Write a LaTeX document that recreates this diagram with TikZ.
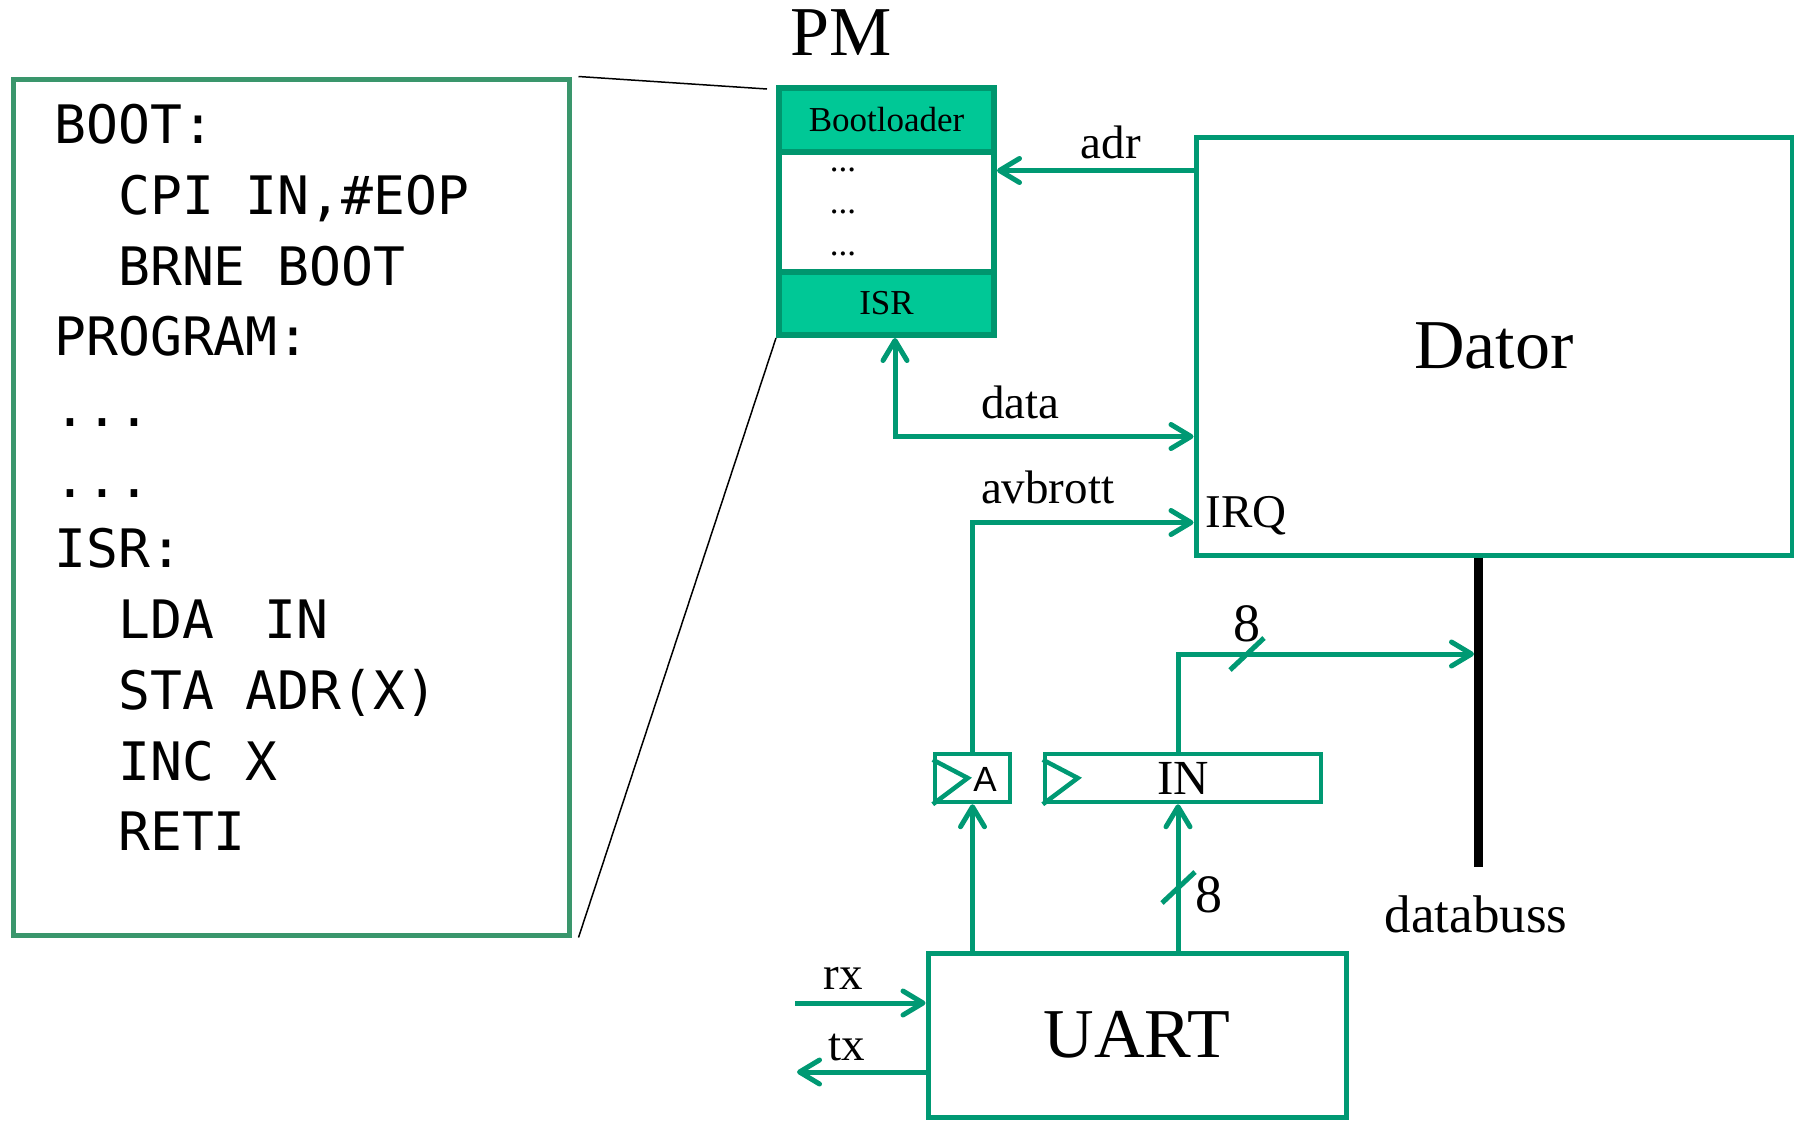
\documentclass[tikz,border=0pt]{standalone}
\usepackage{fontspec}
\setmainfont{Liberation Serif}
\newfontfamily\codefont{DejaVu Sans Mono}
\newfontfamily\regfont{Liberation Sans}
\usetikzlibrary{arrows.meta}
\definecolor{wire}{RGB}{0,153,115}
\definecolor{pmfill}{RGB}{0,200,150}
\definecolor{pmedge}{RGB}{0,150,110}
\definecolor{listing}{RGB}{58,150,108}
\newcommand\ind{\hphantom{xx}}

\begin{document}
\begin{tikzpicture}[x=0.5pt,y=-0.5pt,
  >={Straight Barb[length=10pt,width=12pt,round]},
  box/.style={draw=wire,line width=2.5pt,inner sep=0pt},
  band/.style={draw=pmedge,line width=3pt,fill=pmfill,minimum width=107.5pt,inner sep=0pt,font=\fontsize{17.5}{20}\selectfont},
  reg/.style={draw=wire,line width=2.25pt,minimum height=24pt,inner sep=0pt},
  sig/.style={draw=wire,line width=2.5pt,->},
  lbl/.style={font=\fontsize{23.5}{26}\selectfont,inner sep=0pt},
  num/.style={font=\fontsize{27}{30}\selectfont,inner sep=0pt,anchor=base},
  slash/.style={draw=wire,line width=2.5pt},
  zoomline/.style={draw=black,line width=0.75pt}]
  \useasboundingbox (0,0) rectangle (1794,1120);
  % program listing
  \node[draw=listing,line width=2.5pt,minimum width=278pt,minimum height=428pt] (code) at (291,507) {};
  \node[anchor=north west,inner sep=0pt,align=left,font=\codefont\fontsize{26.5}{35.35}\selectfont] (src) at (54,104)
    {BOOT:\\\ind CPI IN,\#EOP\\\ind BRNE BOOT\\PROGRAM:\\...\\...\\ISR:\\\ind LDA\hspace{25.5pt}IN\\\ind STA ADR(X)\\\ind INC X\\\ind RETI};
  % program memory
  \node[band,minimum height=32pt] (boot) at (886.5,120) {Bootloader};
  \node[band,minimum height=31.5pt] (isr) at (886.5,303.5) {ISR};
  \foreach \y [count=\i] in {170,212,254}
    \node[font=\fontsize{17.5}{20}\selectfont,inner sep=0pt] (dots\i) at (843,\y) {...};
  \node[draw=pmedge,line width=3pt,minimum width=107.5pt,minimum height=123.5pt,inner sep=0pt] (pm) at (886.5,211.5) {};
  \node[font=\fontsize{35}{40}\selectfont,anchor=base,inner sep=0pt] (pmname) at (841,55) {PM};
  \draw[zoomline] ([xshift=3.5pt]code.north east) -- ([xshift=-4.5pt,yshift=-2pt]pm.north west);
  \draw[zoomline] ([xshift=3.5pt]code.south east) -- (pm.south west);
  % computer
  \node[box,minimum width=298pt,minimum height=209pt,font=\fontsize{35}{40}\selectfont] (dator) at (1494,346) {Dator};
  \node[lbl,anchor=base west] (irq) at (1205,527) {IRQ};
  % registers
  \node[reg,minimum width=37.5pt] (areg) at (972.5,778) {};
  \node[font=\regfont\fontsize{17.5}{20}\selectfont,inner sep=0pt] (aname) at (985,779) {A};
  \node[reg,minimum width=138pt,font=\fontsize{24.5}{28}\selectfont] (inreg) at (1183,778) {IN};
  \foreach \r in {areg,inreg}
    \draw[draw=wire,line width=2.25pt] ([yshift=-4pt]\r.north west) -- ([xshift=17.5pt]\r.west) -- (\r.south west);
  % uart
  \node[box,minimum width=209pt,minimum height=82pt,font=\fontsize{35}{40}\selectfont] (uart) at (1137,1035) {UART};
  % data bus
  \coordinate (busend) at (1478,867);
  \draw[line width=4.5pt] (dator.south -| busend) -- (busend);
  \node[anchor=base,inner sep=0pt,font=\fontsize{26.5}{30}\selectfont] (busname) at (1476,932) {databuss};
  % connections
  \coordinate (adrport) at ([yshift=-18pt]dator.north west);
  \coordinate (dataport) at ([yshift=-151pt]dator.north west);
  \coordinate (irqport) at ([yshift=17.5pt]dator.south west);
  \coordinate (bustap) at (1474,654);
  \coordinate (inbot) at ([xshift=-2.5pt]inreg.south);
  \coordinate (rxin) at (795,1003);
  \coordinate (txout) at (797,1072);
  \draw[sig] (adrport) -- (adrport -| pm.east) node[lbl,pos=0.42,above=4.5pt]{adr};
  \draw[sig,<->] ([xshift=4.25pt]pm.south) |- (dataport) node[lbl,pos=0.71,above=7.5pt]{data};
  \draw[sig] (areg.north) |- (irqport) node[lbl,pos=0.67,above=8pt]{avbrott};
  \draw[sig] ([xshift=-2.5pt]inreg.north) |- (bustap);
  \draw[slash] (1230,670) -- (1264,638);
  \node[num] (eighttop) at (1247,641) {8};
  \draw[sig] (uart.north -| areg.south) -- (areg.south);
  \draw[sig] (uart.north -| inbot) -- (inbot);
  \draw[slash] (1162,903) -- (1195,872);
  \node[num] (eightlow) at (1209,912) {8};
  \draw[sig] (rxin) -- (rxin -| uart.west) node[lbl,pos=0.37,above=5.5pt]{rx};
  \draw[sig] (txout -| uart.west) -- (txout) node[lbl,pos=0.61,above=4.5pt]{tx};
\end{tikzpicture}
\end{document}
